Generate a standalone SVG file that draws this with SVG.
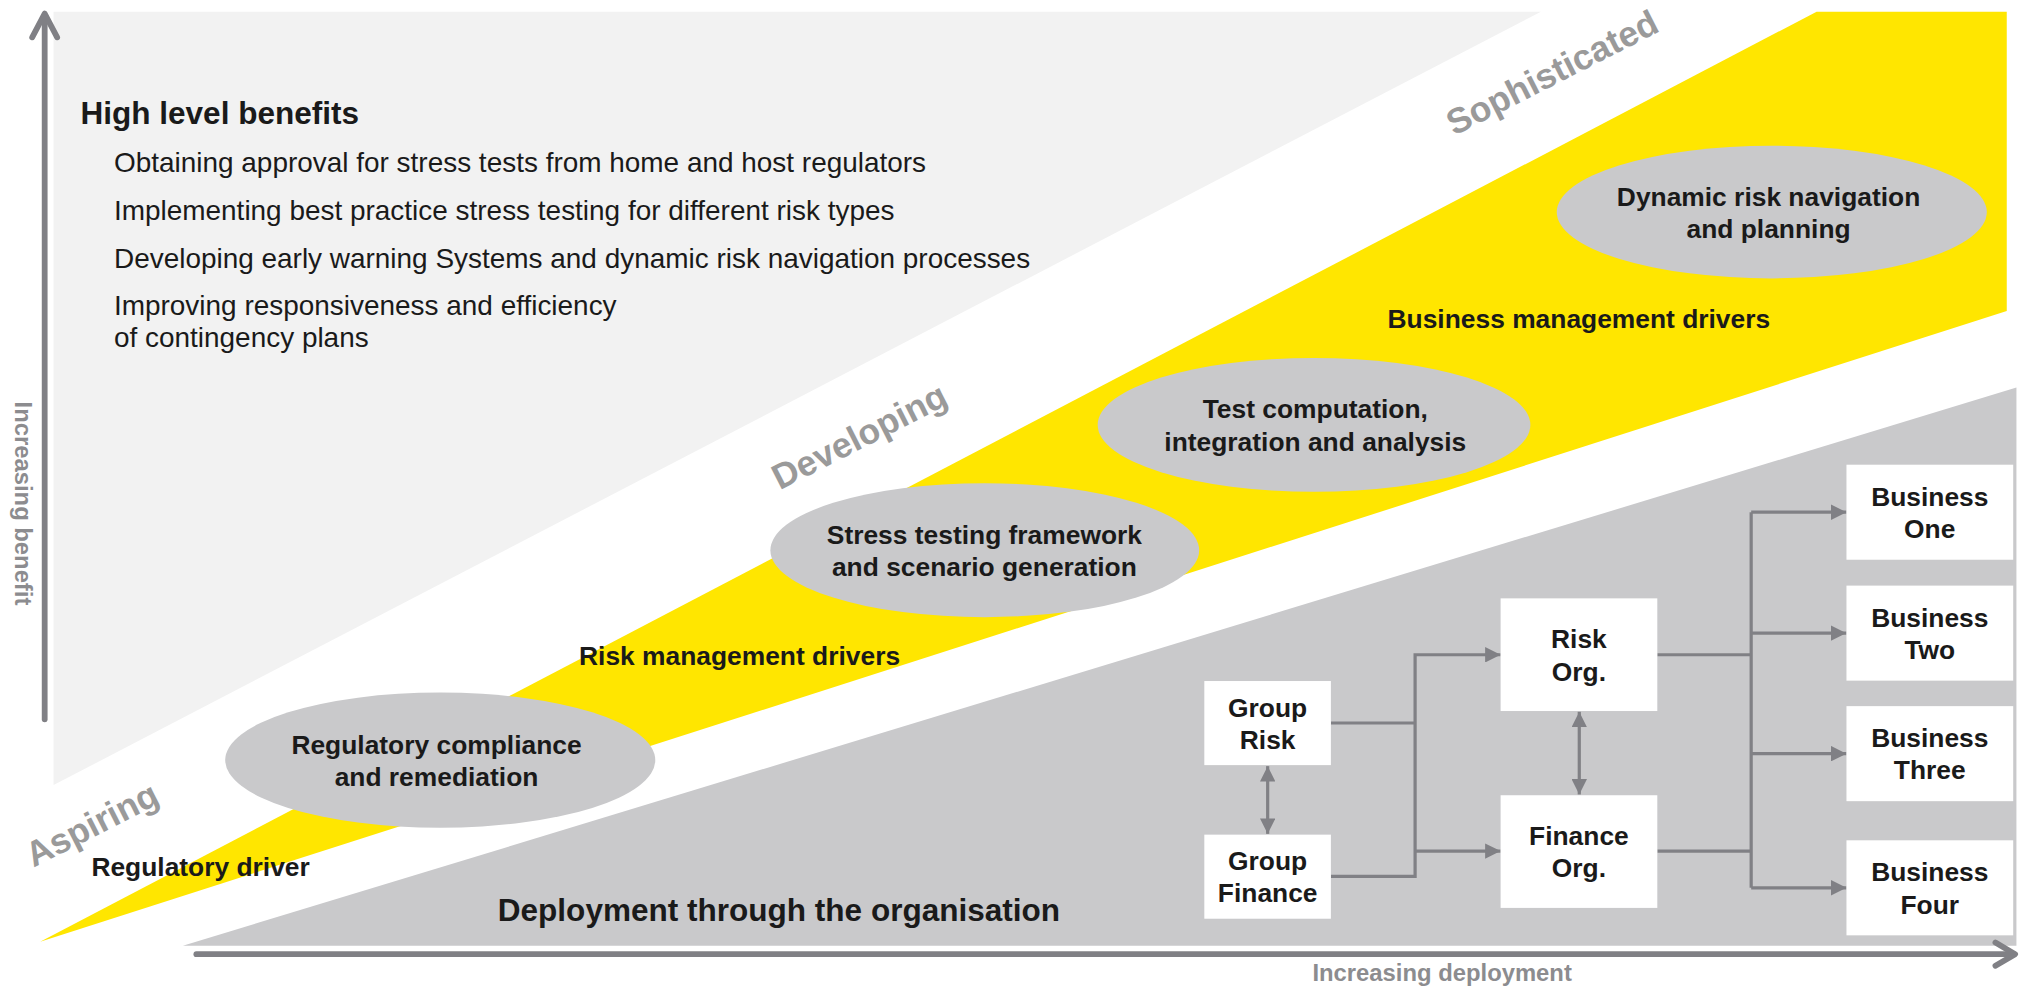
<svg xmlns="http://www.w3.org/2000/svg" width="2019" height="986" viewBox="0 0 2019 986">
<defs>
<style>
.t{font-family:"Liberation Sans",Arial,sans-serif;fill:#1a1a1a}
.h{font-size:24.5px;font-weight:bold}
.body{font-size:21.7px}
.lbl{font-size:20.5px;font-weight:bold;text-anchor:middle}
.drv{font-size:20.5px;font-weight:bold}
.stage{font-family:"Liberation Sans",Arial,sans-serif;font-size:27.5px;font-weight:bold;fill:#9a9a9a;text-anchor:middle}
.axl{font-family:"Liberation Sans",Arial,sans-serif;font-size:18.5px;font-weight:bold;fill:#8c8c8f;text-anchor:middle}
.ell{fill:#c9c9cb}
.box{fill:#ffffff}
.axis{fill:none;stroke:#808085;stroke-width:4.5;stroke-linecap:round;stroke-linejoin:round}
.con{fill:none;stroke:#808085;stroke-width:2.5}
</style>
<marker id="ah" viewBox="0 0 12 12" refX="12" refY="6" markerWidth="12" markerHeight="12" markerUnits="userSpaceOnUse" orient="auto-start-reverse">
<path d="M0,0 L12,6 L0,12 Z" fill="#808085"/>
</marker>
</defs>
<rect width="2019" height="986" fill="#ffffff"/>
<g transform="scale(1.287628)">
<g id="bands">
<path d="M41.6,9.1 L1196.7,9.1 L41.6,609.7 Z" fill="#f2f2f2"/>
<path d="M31.2,731.3 L1410.8,9.1 L1558.5,9.1 L1558.5,241.5 Z" fill="#ffe600"/>
<path d="M142,734.5 L1566,301 L1566,734.5 Z" fill="#c9c9cb"/>
</g>
<g id="axes">
<path class="axis" d="M34.7,558.6 V12"/>
<path class="axis" d="M25,29 L34.7,10.6 L44.4,29"/>
<path class="axis" d="M152.5,741 H1564"/>
<path class="axis" d="M1549.7,732 L1565,741 L1549.7,750"/>
<text class="axl" transform="translate(17.5,391) rotate(90)" y="6">Increasing benefit</text>
<text class="axl" x="1120" y="762">Increasing deployment</text>
</g>
<g id="benefits" class="t">
<text class="h" x="62.5" y="96.5">High level benefits</text>
<text class="body" x="88.5" y="133.5">Obtaining approval for stress tests from home and host regulators</text>
<text class="body" x="88.5" y="171">Implementing best practice stress testing for different risk types</text>
<text class="body" x="88.5" y="208.5">Developing early warning Systems and dynamic risk navigation processes</text>
<text class="body" x="88.5" y="245">Improving responsiveness and efficiency</text>
<text class="body" x="88.5" y="269.5">of contingency plans</text>
</g>
<g id="stages">
<text class="stage" transform="translate(72,641.5) rotate(-27)" y="8">Aspiring</text>
<text class="stage" transform="translate(668,340) rotate(-27)" y="8">Developing</text>
<text class="stage" transform="translate(1206,57.6) rotate(-27)" y="8">Sophisticated</text>
</g>
<g id="drivers" class="t">
<text class="drv" x="71" y="680.5">Regulatory driver</text>
<text class="drv" x="449.7" y="516.5">Risk management drivers</text>
<text class="drv" x="1077.6" y="255">Business management drivers</text>
<text class="h" x="386.6" y="715.5">Deployment through the organisation</text>
</g>
<g id="e-regulatory" class="t">
<ellipse class="ell" cx="341.9" cy="590.3" rx="167" ry="52.5"/>
<text class="lbl" x="339" y="585.3">Regulatory compliance</text>
<text class="lbl" x="339" y="610.3">and remediation</text>
</g>
<g id="e-stress" class="t">
<ellipse class="ell" cx="764.8" cy="427.3" rx="166.5" ry="52"/>
<text class="lbl" x="764.5" y="422.3">Stress testing framework</text>
<text class="lbl" x="764.5" y="447.3">and scenario generation</text>
</g>
<g id="e-test" class="t">
<ellipse class="ell" cx="1020.5" cy="330" rx="168" ry="52"/>
<text class="lbl" x="1021.5" y="325">Test computation,</text>
<text class="lbl" x="1021.5" y="350">integration and analysis</text>
</g>
<g id="e-dynamic" class="t">
<ellipse class="ell" cx="1376" cy="164.7" rx="167" ry="51.5"/>
<text class="lbl" x="1373.5" y="159.7">Dynamic risk navigation</text>
<text class="lbl" x="1373.5" y="184.7">and planning</text>
</g>
<g id="connectors">
<path class="con" d="M1033.6,561.5 H1099"/>
<path class="con" d="M1033.6,680.6 H1099 V508.5 H1165.4" marker-end="url(#ah)"/>
<path class="con" d="M1099,661 H1165.4" marker-end="url(#ah)"/>
<path class="con" d="M984.5,595 V647.6" marker-start="url(#ah)" marker-end="url(#ah)"/>
<path class="con" d="M1226.5,552.8 V617" marker-start="url(#ah)" marker-end="url(#ah)"/>
<path class="con" d="M1287.1,508.5 H1360"/>
<path class="con" d="M1287.1,661 H1360"/>
<path class="con" d="M1360,397.8 V689.5"/>
<path class="con" d="M1360,397.8 H1434" marker-end="url(#ah)"/>
<path class="con" d="M1360,491.7 H1434" marker-end="url(#ah)"/>
<path class="con" d="M1360,585.3 H1434" marker-end="url(#ah)"/>
<path class="con" d="M1360,689.5 H1434" marker-end="url(#ah)"/>
</g>
<g id="group-risk" class="t">
<rect class="box" x="935.3" y="528.9" width="98.3" height="65.3"/>
<text class="lbl" x="984.5" y="556.5">Group</text>
<text class="lbl" x="984.5" y="581.5">Risk</text>
</g>
<g id="group-finance" class="t">
<rect class="box" x="935.3" y="648.2" width="98.3" height="65.3"/>
<text class="lbl" x="984.5" y="675.9">Group</text>
<text class="lbl" x="984.5" y="700.9">Finance</text>
</g>
<g id="risk-org" class="t">
<rect class="box" x="1165.4" y="464.7" width="121.7" height="87.5"/>
<text class="lbl" x="1226.2" y="503.5">Risk</text>
<text class="lbl" x="1226.2" y="528.5">Org.</text>
</g>
<g id="finance-org" class="t">
<rect class="box" x="1165.4" y="617.6" width="121.7" height="87.5"/>
<text class="lbl" x="1226.2" y="656.3">Finance</text>
<text class="lbl" x="1226.2" y="681.3">Org.</text>
</g>
<g id="business-one" class="t">
<rect class="box" x="1434" y="360.9" width="129.5" height="73.8"/>
<text class="lbl" x="1498.7" y="392.8">Business</text>
<text class="lbl" x="1498.7" y="417.8">One</text>
</g>
<g id="business-two" class="t">
<rect class="box" x="1434" y="454.8" width="129.5" height="73.8"/>
<text class="lbl" x="1498.7" y="486.7">Business</text>
<text class="lbl" x="1498.7" y="511.7">Two</text>
</g>
<g id="business-three" class="t">
<rect class="box" x="1434" y="548.4" width="129.5" height="73.8"/>
<text class="lbl" x="1498.7" y="580.3">Business</text>
<text class="lbl" x="1498.7" y="605.3">Three</text>
</g>
<g id="business-four" class="t">
<rect class="box" x="1434" y="652.6" width="129.5" height="73.8"/>
<text class="lbl" x="1498.7" y="684.5">Business</text>
<text class="lbl" x="1498.7" y="709.5">Four</text>
</g>
</g>
</svg>
